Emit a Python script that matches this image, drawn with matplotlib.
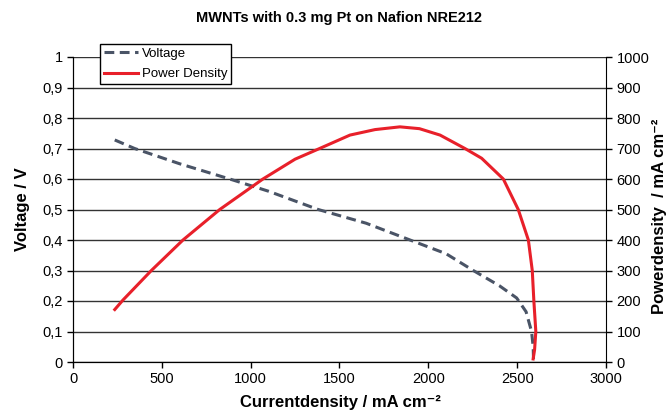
import matplotlib.pyplot as plt
from matplotlib.ticker import FuncFormatter

plt.rcParams['font.family'] = ['Liberation Sans', 'DejaVu Sans']

# Voltage curve
current_v = [235, 347, 600, 882, 1100, 1380, 1650, 1897, 2100, 2253, 2400,
             2497, 2550, 2581, 2590, 2592]
voltage = [0.728, 0.70, 0.65, 0.60, 0.56, 0.50, 0.455, 0.40, 0.355, 0.30, 0.25,
           0.21, 0.165, 0.10, 0.05, 0.01]

# Power density curve
current_p = [235, 281, 441, 619, 826, 1069, 1250, 1388, 1559, 1700, 1840, 1950,
             2066, 2206, 2300, 2422, 2506, 2563, 2585, 2594, 2605, 2598, 2590]
power = [172, 203, 300, 400, 500, 600, 665, 700, 744, 762, 771, 765,
         744, 700, 668, 600, 500, 400, 300, 200, 100, 40, 10]

fig = plt.figure(figsize=(6.72, 4.12), dpi=100)
ax = fig.add_axes([73 / 672, 50 / 412, 533 / 672, 305 / 412])
ax2 = ax.twinx()

ax.set_xlim(0, 3000)
ax.set_ylim(0, 1)
ax2.set_ylim(0, 1000)
ax.set_xticks(range(0, 3001, 500))
ax.set_yticks([i / 10 for i in range(11)])
ax2.set_yticks(range(0, 1001, 100))
ax.yaxis.set_major_formatter(FuncFormatter(lambda v, p: ('%g' % round(v, 1)).replace('.', ',')))
ax.grid(axis='y', color='#333333', linewidth=1)
ax.set_axisbelow(True)

for a in (ax, ax2):
    a.spines['top'].set_visible(False)
    a.tick_params(direction='out', length=4, width=1, labelsize=10.5, colors='black')
ax.spines['right'].set_visible(False)

l1, = ax.plot(current_v, voltage, color='#4a5466', linestyle=(0, (3.2, 1.8)),
              linewidth=2.2, label='Voltage')
l2, = ax2.plot(current_p, power, color='#e8202a', linewidth=2.2, label='Power Density')

leg = ax.legend(handles=[l1, l2], loc='upper left', bbox_to_anchor=(0.05, 1.043),
                borderaxespad=0, fancybox=False, edgecolor='black', fontsize=9.5,
                framealpha=1, borderpad=0.3, labelspacing=0.6, handlelength=2.6,
                handletextpad=0.3)
leg.get_frame().set_linewidth(1)
leg.set_zorder(10)

fig.text(0.5 * (73 + 606) / 672, 1 - 18 / 412, 'MWNTs with 0.3 mg Pt on Nafion NRE212',
         fontsize=10.5, fontweight='bold', ha='center', va='center')
ax.set_xlabel('Currentdensity / mA cm\u207b\u00b2', fontsize=12, fontweight='bold')
ax.set_ylabel('Voltage / V', fontsize=12, fontweight='bold')
ax2.set_ylabel('Powerdensity  / mA cm\u207b\u00b2', fontsize=12, fontweight='bold')
ax.xaxis.set_label_coords((340 - 73) / 533, (362 - 402) / 305)
ax.xaxis.label.set_va('center')
ax.yaxis.set_label_coords((22 - 73) / 533, 0.5)
ax.yaxis.label.set_va('center')
ax2.yaxis.set_label_coords((660 - 73) / 533, (362 - 216) / 305)
ax2.yaxis.label.set_va('center')

fig.savefig('out.png', dpi=100)
